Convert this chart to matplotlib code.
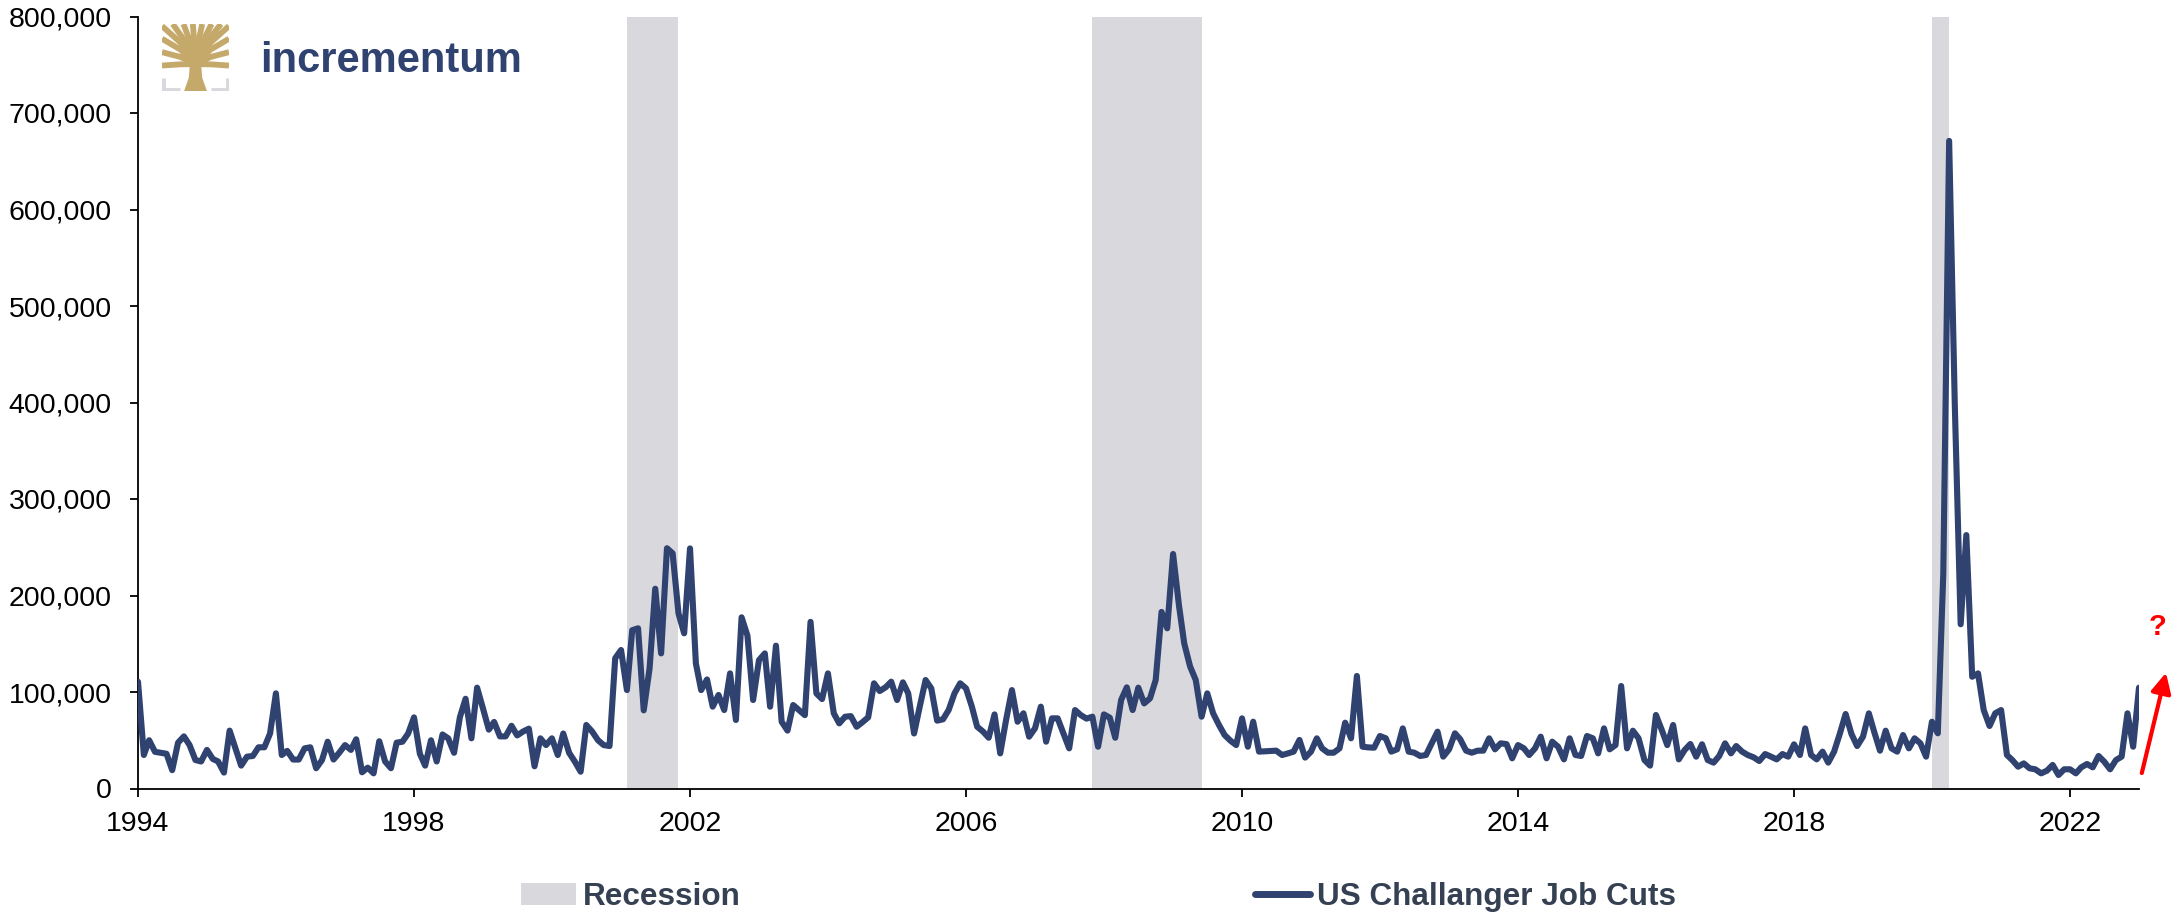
import numpy as np
import pandas as pd
import matplotlib
matplotlib.use('Agg')
import matplotlib.pyplot as plt
from matplotlib.patches import Patch, Polygon
from matplotlib.lines import Line2D
from matplotlib.ticker import FuncFormatter

plt.rcParams['font.family'] = ['Liberation Sans', 'DejaVu Sans']

# US Challenger job cuts, monthly, in thousands
y1994 = [110.7, 34.7, 50, 38, 37, 36, 19, 47.5, 54, 45, 29.5, 28]
y1995 = [40, 30.6, 28, 16.5, 60, 41.6, 23.7, 33, 33.7, 42.7, 42.7, 57]
y1996 = [98.6, 34.7, 39, 30, 30, 41.6, 42.7, 21, 29.5, 48.5, 30, 37]
y1997 = [45, 40, 51, 16.8, 21.6, 15.7, 49, 28, 21, 47.5, 48.5, 57]
y1998 = [73.7, 36, 23.7, 50, 28, 56, 52, 37, 74, 93, 52, 104.5]
y1999 = [83, 61, 69, 54, 54, 65, 55, 59, 62, 23, 52, 45]
y2000 = [52, 34.7, 57, 37, 28, 17.4, 65.8, 59, 50, 45, 44, 135]
y2001 = [143.5, 102, 164, 166, 81, 124.5, 207, 140, 249, 243.7, 181.5, 160.8]
y2002 = [248.8, 129.7, 102, 113, 84.8, 96.9, 81.3, 119.3, 71, 177.4, 158.4, 91.7]
y2003 = [133, 140, 84.8, 148, 69.2, 60, 86.5, 81.3, 76, 172.7, 98.5, 92.7]
y2004 = [119.3, 77.9, 67.5, 74.4, 75, 64, 68.6, 73.7, 109, 101, 104.8, 110.7]
y2005 = [91.7, 110, 98.6, 57, 84.8, 112.4, 103.8, 70.3, 71.7, 81.3, 98.6, 109]
y2006 = [103.8, 84.8, 64, 59, 52.6, 76.8, 36.4, 71, 102, 69.2, 77.9, 53.7]
y2007 = [62.3, 84.8, 48.5, 72.7, 72.7, 57, 41.6, 81.3, 76, 72.4, 74.4, 43.3]
y2008 = [76.8, 73.4, 52.6, 91.7, 104.8, 81.3, 104.5, 88.2, 93.4, 112.4, 183, 166]
y2009 = [243, 190, 150.4, 126.5, 112.4, 74.4, 98.6, 77.9, 65.8, 55.4, 49.5, 45]
y2010 = [72.7, 43.3, 69.2, 38.2, 38.5, 38.9, 39.2, 34.7, 36.4, 38.2, 50.3, 32]
y2011 = [38.2, 52, 41.6, 37.1, 37.1, 41.6, 68.2, 52, 116.6, 43.3, 42.6, 42.3]
y2012 = [54.4, 52, 38.2, 40.6, 62.3, 38.2, 37.1, 33.7, 34.7, 46.8, 58.9, 33]
y2013 = [40.6, 57.2, 51, 39.2, 37.1, 39.2, 39.2, 52, 40.6, 46.8, 46, 31.3]
y2014 = [45, 41.6, 34.7, 41.6, 53.7, 31.3, 48.5, 43.3, 30.2, 52, 34.7, 33.7]
y2015 = [54.4, 52, 36.4, 62.3, 40.6, 45, 106.2, 41.6, 59.9, 52, 29.5, 23.7]
y2016 = [76.2, 60.6, 45, 65.8, 30.2, 39.9, 46.1, 33, 45.8, 29.5, 26.8, 33.7]
y2017 = [46.8, 36.4, 44, 38.2, 34.7, 32.3, 28.5, 35.7, 33, 30.2, 35.7, 33]
y2018 = [45.8, 34.7, 62.3, 34.7, 30.2, 38.2, 26.8, 38.2, 57.2, 77.2, 56.5, 44]
y2019 = [53.7, 77.9, 58.9, 39.2, 59.9, 41.6, 38.2, 55.4, 41.6, 52, 46.8, 33]
y2020 = [69.2, 57.2, 222.3, 671.1, 397, 170.2, 262.6, 115.8, 119.3, 81.3, 64.8, 77.9]
y2021 = [81.3, 34.7, 29.5, 22.6, 26, 20.9, 19.9, 15.7, 18.5, 24.4, 14, 19.9]
y2022 = [19.9, 15.7, 21.9, 25.4, 21.9, 33.7, 27.8, 19.9, 29.5, 33, 77.9, 43.3]
y2023 = [104.5]

# recession shading (start, end)
rec_start = ['2001-02-01', '2007-11-01', '2020-01-01']
rec_end = ['2001-11-01', '2009-06-01', '2020-04-01']

tick_years = list(range(1994, 2023, 4))

cuts = np.array(y1994 + y1995 + y1996 + y1997 + y1998 + y1999 + y2000 + y2001
                + y2002 + y2003 + y2004 + y2005 + y2006 + y2007 + y2008 + y2009
                + y2010 + y2011 + y2012 + y2013 + y2014 + y2015 + y2016 + y2017
                + y2018 + y2019 + y2020 + y2021 + y2022 + y2023) * 1000
dates = pd.date_range('1994-01-01', periods=len(cuts), freq='MS')

navy = '#2F4270'
shade = '#D9D8DC'
gold = '#C5A96B'

fig = plt.figure(figsize=(21.73, 9.14), dpi=100)
ax = fig.add_axes([138/2173, 1-788.5/914, 2001/2173, 772/914])

for s, e in zip(rec_start, rec_end):
    ax.axvspan(pd.Timestamp(s), pd.Timestamp(e), color=shade, lw=0, zorder=0)

ax.plot(dates, cuts, color=navy, lw=4.4, solid_joinstyle='round',
        solid_capstyle='round', zorder=3)

ax.set_xlim(pd.Timestamp('1994-01-01'), pd.Timestamp('2023-01-01'))
ax.set_ylim(0, 800000)
ax.set_yticks(np.arange(0, 800001, 100000))
ax.yaxis.set_major_formatter(FuncFormatter(lambda v, p: '{:,.0f}'.format(v)))
ax.set_xticks([pd.Timestamp(f'{y}-01-01') for y in tick_years])
ax.set_xticklabels([str(y) for y in tick_years])

for side in ['top', 'right']:
    ax.spines[side].set_visible(False)
for side in ['left', 'bottom']:
    ax.spines[side].set_linewidth(1.3)
    ax.spines[side].set_color('black')
ax.tick_params(axis='both', direction='out', length=6, width=1.3,
               labelsize=20.5, colors='black')
ax.tick_params(axis='y', pad=13)
ax.tick_params(axis='x', pad=10)

# red arrow and question mark at the right edge
ax.annotate('', xy=(1.0135, 0.15), xytext=(1.0014, 0.02),
            xycoords='axes fraction', textcoords='axes fraction',
            arrowprops=dict(arrowstyle='-|>', color='red', lw=3,
                            mutation_scale=30, shrinkA=0, shrinkB=0),
            annotation_clip=False)
ax.text(1.0094, 0.209, '?', transform=ax.transAxes, color='red',
        fontsize=21, fontweight='bold', ha='center', va='center', clip_on=False)

# legend
handles = [Patch(facecolor=shade, edgecolor='none', label='Recession'),
           Line2D([], [], color=navy, lw=5, solid_capstyle='round',
                  label='US Challanger Job Cuts')]
leg = fig.legend(handles=handles, loc='center left', ncol=2,
                 bbox_to_anchor=(521/2173, 1-897/914), frameon=False,
                 prop={'size': 22.7, 'weight': 'bold'}, handlelength=1.75,
                 handletextpad=0.22, columnspacing=16.3, borderpad=0,
                 borderaxespad=0)
for t in leg.get_texts():
    t.set_color('#354152')

# logo
lax = fig.add_axes([162/2173, 1-91/914, 67/2173, 67/914])
lax.set_xlim(0, 1)
lax.set_ylim(0, 1)
lax.axis('off')
lax.plot([0.02, 0.02, 0.27], [0.2, 0.02, 0.02], color=shade, lw=3.5,
         solid_capstyle='butt')
lax.plot([0.73, 0.98, 0.98], [0.02, 0.02, 0.2], color=shade, lw=3.5,
         solid_capstyle='butt')
lax.add_patch(Polygon([[0.33, 0.0], [0.67, 0.0], [0.6, 0.2], [0.58, 0.45],
                       [0.42, 0.45], [0.4, 0.2]], closed=True,
                      facecolor=gold, edgecolor='none'))
branches = [(0.0, 0.38), (0.0, 0.58), (0.0, 0.78), (0.0, 0.97), (0.16, 1.0),
            (0.32, 1.0), (0.46, 1.0), (0.6, 1.0), (0.74, 1.0), (0.88, 1.0),
            (1.0, 0.97), (1.0, 0.78), (1.0, 0.58), (1.0, 0.38)]
for bx, by in branches:
    mx = 0.5 + (bx - 0.5) * 0.45
    my = 0.42 + (by - 0.42) * 0.55
    lax.plot([0.5, mx, bx], [0.4, my, by], color=gold, lw=4.2,
             solid_capstyle='butt', clip_on=True)

fig.text(260/2173, 1-61/914, 'incrementum', color=navy, fontsize=30,
         fontweight='bold', ha='left', va='center')

fig.savefig('out.png', dpi=100)
